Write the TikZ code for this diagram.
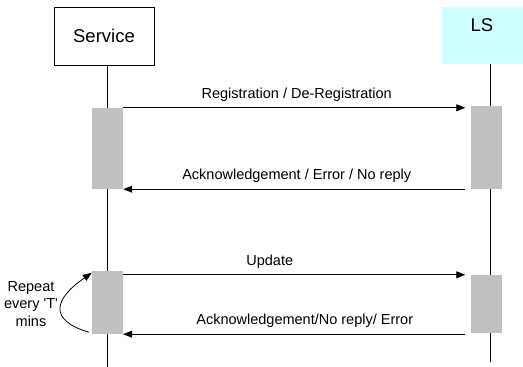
\documentclass[tikz,border=0pt]{standalone}
\usepackage{fontspec}
\setmainfont{Liberation Sans}
\usetikzlibrary{positioning,arrows.meta}
\definecolor{ls-cyan}{RGB}{204,255,255}
\definecolor{bar-gray}{RGB}{192,192,192}
\newcommand{\headfont}{\fontsize{18.5}{22}\selectfont}
\newcommand{\msgfont}{\fontsize{14.5}{17.5}\selectfont}
\tikzstyle{actor-box} = [draw=black, line width=0.8pt, fill=white,
    minimum width=100pt, minimum height=58pt, font=\headfont]
\tikzstyle{ls-box} = [fill=ls-cyan, minimum width=81pt, minimum height=57pt]
\tikzstyle{act-bar} = [fill=bar-gray, minimum width=31pt, inner sep=0pt]
\tikzstyle{msg} = [line width=0.8pt, -{Triangle[length=9pt,width=7pt]}]
\tikzstyle{msg-label} = [font=\msgfont, above=3pt]

\begin{document}
\begin{tikzpicture}[x=1pt, y=-1pt]
\useasboundingbox (0,0) rectangle (523,367);
% actors
\node [actor-box] (service) at (104,36) {Service};
\node [ls-box] (ls) at (482.5,35.5) {};
\node [font=\headfont] (ls-name) at (482,25) {LS};
% lifelines
\coordinate (svc-end) at (107.5,367);
\coordinate (ls-top) at (490,64);
\coordinate (ls-end) at (490,362);
\draw [line width=0.8pt] (svc-end |- service.south) -- (svc-end);
\draw [line width=0.8pt] (ls-top) -- (ls-end);
% activation bars
\node [act-bar, minimum height=81pt] (sa1) at (107.5,148.5) {};
\node [act-bar, minimum height=63pt] (sa2) at (107.5,302.5) {};
\node [act-bar, minimum height=83pt] (la1) at (486,147.5) {};
\node [act-bar, minimum height=58pt] (la2) at (486,304) {};
% messages
\draw [msg, shorten >=5pt] (sa1.north east) -- (sa1.north east -| la1.west)
    node [msg-label, midway] (reg) {Registration / De-Registration};
\draw [msg, shorten <=5pt] (sa1.south east -| la1.west) -- (sa1.south east)
    node [msg-label, midway] (ack) {Acknowledgement / Error / No reply};
\draw [msg, shorten >=5pt] (sa2.east |- la2.north) -- (la2.north west)
    node [msg-label, midway, xshift=-27pt] (upd) {Update};
\draw [msg, shorten <=5pt] (sa2.south east -| la2.west) -- (sa2.south east)
    node [msg-label, midway, xshift=8pt] (ack2) {Acknowledgement/No reply/ Error};
% repeat loop
\node [font=\msgfont, align=center] (repeat) at (31,304)
    {Repeat\\every \textquotesingle T\textquotesingle\\mins};
\draw [msg] ([xshift=-3pt,yshift=2pt]sa2.south west)
    .. controls (48,320) and (54,299) .. ([yshift=-2pt]sa2.north west);
\end{tikzpicture}
\end{document}
